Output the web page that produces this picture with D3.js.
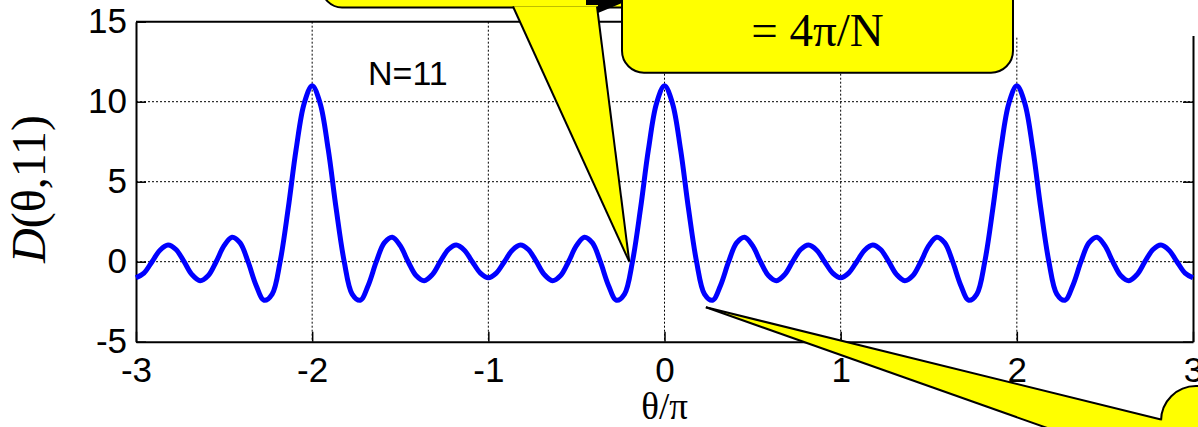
<!DOCTYPE html>
<html>
<head>
<meta charset="utf-8">
<script src="https://cdn.jsdelivr.net/npm/d3@7"></script>
<style>
  body { margin: 0; background: white; }
  svg { display: block; }
</style>
</head>
<body>
<div id="chart"></div>
<script>
// samples of D(theta, 11), theta in units of pi
const thetaOverPi = [
  -3, -2.955, -2.909, -2.864, -2.818, -2.773, -2.727, -2.682, -2.636, -2.591, -2.545,
  -2.5, -2.455, -2.409, -2.364, -2.318, -2.273, -2.227, -2.182, -2.136, -2.091, -2.045,
  -2, -1.955, -1.909, -1.864, -1.818, -1.773, -1.727, -1.682, -1.636, -1.591, -1.545,
  -1.5, -1.455, -1.409, -1.364, -1.318, -1.273, -1.227, -1.182, -1.136, -1.091, -1.045,
  -1, -0.955, -0.909, -0.864, -0.818, -0.773, -0.727, -0.682, -0.636, -0.591, -0.545,
  -0.5, -0.455, -0.409, -0.364, -0.318, -0.273, -0.227, -0.182, -0.136, -0.091, -0.045,
  0, 0.045, 0.091, 0.136, 0.182, 0.227, 0.273, 0.318, 0.364, 0.409, 0.455,
  0.5, 0.545, 0.591, 0.636, 0.682, 0.727, 0.773, 0.818, 0.864, 0.909, 0.955,
  1, 1.045, 1.091, 1.136, 1.182, 1.227, 1.273, 1.318, 1.364, 1.409, 1.455,
  1.5, 1.545, 1.591, 1.636, 1.682, 1.727, 1.773, 1.818, 1.864, 1.909, 1.955,
  2, 2.045, 2.091, 2.136, 2.182, 2.227, 2.273, 2.318, 2.364, 2.409, 2.455,
  2.5, 2.545, 2.591, 2.636, 2.682, 2.727, 2.773, 2.818, 2.864, 2.909, 2.955, 3
]
const dValues = [
  -1, -0.71, 0, 0.72, 1.04, 0.76, 0, -0.81, -1.19, -0.88, 0,
  1.00, 1.53, 1.18, 0, -1.48, -2.41, -2.02, 0, 3.33, 7.03, 9.91,
  11, 9.91, 7.03, 3.33, 0, -2.02, -2.41, -1.48, 0, 1.18, 1.53,
  1.00, 0, -0.88, -1.19, -0.81, 0, 0.76, 1.04, 0.72, 0, -0.71,
  -1, -0.71, 0, 0.72, 1.04, 0.76, 0, -0.81, -1.19, -0.88, 0,
  1.00, 1.53, 1.18, 0, -1.48, -2.41, -2.02, 0, 3.33, 7.03, 9.91,
  11, 9.91, 7.03, 3.33, 0, -2.02, -2.41, -1.48, 0, 1.18, 1.53,
  1.00, 0, -0.88, -1.19, -0.81, 0, 0.76, 1.04, 0.72, 0, -0.71,
  -1, -0.71, 0, 0.72, 1.04, 0.76, 0, -0.81, -1.19, -0.88, 0,
  1.00, 1.53, 1.18, 0, -1.48, -2.41, -2.02, 0, 3.33, 7.03, 9.91,
  11, 9.91, 7.03, 3.33, 0, -2.02, -2.41, -1.48, 0, 1.18, 1.53,
  1.00, 0, -0.88, -1.19, -0.81, 0, 0.76, 1.04, 0.72, 0, -0.71, -1
]
const xTicks = [-3, -2, -1, 0, 1, 2, 3]
const yTicks = [-5, 0, 5, 10, 15]

const width = 1198
const height = 427
const plotLeft = 136, plotRight = 1193, plotTop = 21.7, plotBottom = 341.7
const yellow = '#ffff00'

const x = d3.scaleLinear().domain([-3, 3]).range([plotLeft, plotRight])
const y = d3.scaleLinear().domain([-5, 15]).range([plotBottom, plotTop])

const svg = d3.select('#chart').append('svg')
    .attr('width', width)
    .attr('height', height)
    .attr('viewBox', [0, 0, width, height])

// dotted grid
svg.append('g').selectAll('line').data(xTicks.slice(1, -1)).join('line')
    .attr('x1', d => x(d)).attr('x2', d => x(d))
    .attr('y1', plotTop).attr('y2', plotBottom)
    .attr('stroke', 'black').attr('stroke-width', 1).attr('stroke-dasharray', '2,2')
svg.append('g').selectAll('line').data(yTicks.slice(1, -1)).join('line')
    .attr('x1', plotLeft).attr('x2', plotRight)
    .attr('y1', d => y(d)).attr('y2', d => y(d))
    .attr('stroke', 'black').attr('stroke-width', 1).attr('stroke-dasharray', '2,2')

// axes
const xAxis = svg.append('g')
    .attr('transform', `translate(0,${plotBottom})`)
    .call(d3.axisBottom(x).tickValues(xTicks).tickSize(-10).tickSizeOuter(0).tickPadding(15))
const yAxis = svg.append('g')
    .attr('transform', `translate(${plotLeft},0)`)
    .call(d3.axisLeft(y).tickValues(yTicks).tickSize(-10).tickSizeOuter(0).tickPadding(9))
const yAxisRight = svg.append('g')
    .attr('transform', `translate(${plotRight},0)`)
    .call(d3.axisRight(y).tickValues(yTicks).tickSize(-10).tickSizeOuter(0).tickFormat(''))
svg.append('line')
    .attr('x1', plotLeft).attr('x2', plotRight).attr('y1', plotTop).attr('y2', plotTop)
    .attr('stroke', 'black').attr('stroke-width', 2)

for (const g of [xAxis, yAxis, yAxisRight]) {
    g.select('.domain').attr('stroke-width', 2)
    g.selectAll('.tick line').attr('stroke-width', 1.5)
    g.selectAll('.tick text')
        .attr('font-family', 'Liberation Sans, Arial, sans-serif')
        .attr('font-size', 35)
        .attr('fill', 'black')
}
// plain hyphen minus like the original
xAxis.selectAll('.tick text').text(d => String(d))
yAxis.selectAll('.tick text').text(d => String(d))

// the curve
const line = d3.line()
    .x((d, i) => x(thetaOverPi[i]))
    .y(d => y(d))
    .curve(d3.curveCatmullRom)
svg.append('path')
    .datum(dValues)
    .attr('d', line)
    .attr('fill', 'none')
    .attr('stroke', '#0000ff')
    .attr('stroke-width', 5)
    .attr('stroke-linejoin', 'round')

svg.append('text')
    .attr('x', 368).attr('y', 85)
    .attr('font-family', 'Liberation Sans, Arial, sans-serif')
    .attr('font-size', 34)
    .text('N=11')

// labels
svg.append('text')
    .attr('x', x(0)).attr('y', 419)
    .attr('text-anchor', 'middle')
    .attr('font-family', 'Liberation Serif, Times New Roman, serif')
    .attr('font-size', 37)
    .text('θ/π')

const ylab = svg.append('text')
    .attr('transform', 'translate(45,189) rotate(-90)')
    .attr('text-anchor', 'middle')
    .attr('font-family', 'Liberation Serif, Times New Roman, serif')
    .attr('font-size', 48)
ylab.append('tspan').attr('font-style', 'italic').text('D')
ylab.append('tspan').text('(θ,11)')

// white patch over the top right corner of the frame
svg.append('rect')
    .attr('x', 1013).attr('y', 0).attr('width', width - 1013).attr('height', 36)
    .attr('fill', 'white')

// callouts
function callout(box, base, tip) {
    const g = svg.append('g')
    g.append('rect')
        .attr('x', box.x).attr('y', box.y).attr('width', box.w).attr('height', box.h)
        .attr('rx', box.r).attr('ry', box.r)
        .attr('fill', yellow).attr('stroke', 'black').attr('stroke-width', 2)
    if (base.length) {
        g.append('polygon')
            .attr('points', [base[0], tip, base[1]].map(p => p.join(',')).join(' '))
            .attr('fill', yellow)
    }
    for (const b of base) {
        g.append('line')
            .attr('x1', b[0]).attr('y1', b[1]).attr('x2', tip[0]).attr('y2', tip[1])
            .attr('stroke', 'black').attr('stroke-width', 2)
    }
    return g
}

// top left callout, pointing at the first zero
callout({x: 322, y: -60, w: 330, h: 67.5, r: 20},
        [[513, 6.5], [597, 6.5]],
        [x(-0.2), y(0)])
svg.append('polygon')
    .attr('points', '586,0 622,0 622,3 598,13 598,5 586,5')
    .attr('fill', 'black')

// top right callout with the main lobe width
callout({x: 622, y: -40, w: 391, h: 112.7, r: 22}, [], [0, 0])
svg.append('text')
    .attr('x', 817.5).attr('y', 46)
    .attr('text-anchor', 'middle')
    .attr('font-family', 'Liberation Serif, Times New Roman, serif')
    .attr('font-size', 47)
    .text('= 4π/N')

// bottom right callout, pointing near the first sidelobe
callout({x: 1161, y: 386, w: 120, h: 120, r: 35},
        [[1161, 419.5], [1200, 482]],
        [x(0.235), y(-2.85)])
</script>
</body>
</html>
